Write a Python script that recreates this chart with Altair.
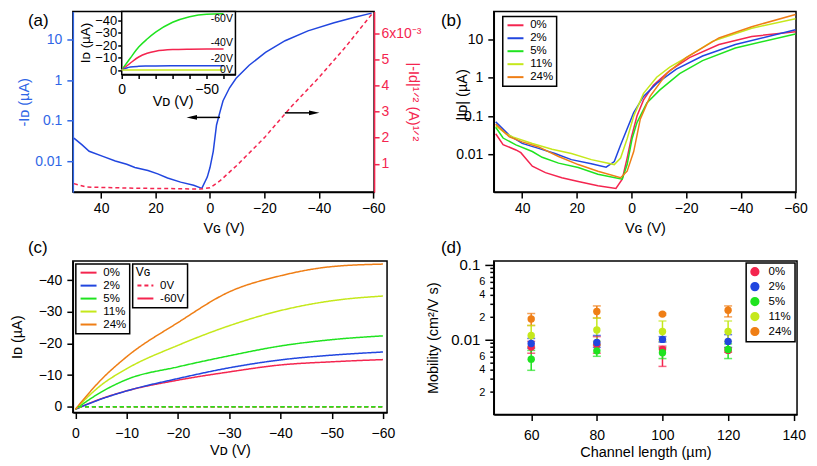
import altair as alt
import pandas as pd

FONT = "Liberation Sans"
RED = "#f4254f"
BLUE = "#2146df"
AXBLUE = "#2f66e6"
GREEN = "#1fe31f"
YG = "#c5e81b"
ORANGE = "#ef7e15"

CONC = ["0%", "2%", "5%", "11%", "24%"]
CONC_COLORS = [RED, BLUE, GREEN, YG, ORANGE]

# ---------------- (a) transfer curve ----------------
a_vg = [50, 47, 44.4, 39.6, 34.8, 30.6, 27.6, 22.8, 19.2, 15.6, 10.8, 6, 3, 1, 0,
        -1.2, -2.4, -3.6, -4.8, -7.2, -9.6, -14.4, -20.4, -27.6, -36, -45.6, -52.8, -59.4]
a_id = [0.0367, 0.0251, 0.0174, 0.0132, 0.0100, 0.0083, 0.0069, 0.0058, 0.0048, 0.0038,
        0.0030, 0.0025, 0.0021, 0.0040, 0.0069, 0.0174, 0.078, 0.158, 0.31, 0.65, 1.12,
        2.34, 4.9, 9.5, 16.6, 26.3, 35.5, 45.7]
a_sq_vg = [50, 45.6, 38.4, 26.4, 14.4, 3.6, 0, -3.6, -10, -20, -30, -40, -50, -60]
a_sq = [0.24, 0.11, 0.09, 0.06, 0.05, 0.03, 0.08, 0.34, 0.95, 2.0, 3.2, 4.3, 5.5, 6.8]
arrow_from = [-3.7, -27.5]
arrow_to = [6.7, -38.3]
arrow_y = [0.12, 2.95]

# inset output curves
ins_vd = [0, -5, -10, -15, -20, -30, -40, -50, -60]
ins_id_m60 = [0, -9.5, -18.5, -25, -30.5, -38.5, -43, -45, -45.3]
ins_id_m40 = [0, -5.5, -10.5, -13.5, -15.2, -16.5, -16.8, -16.9, -16.9]
ins_id_m20 = [0, -2.4, -3.0, -3.2, -3.3, -3.4, -3.4, -3.4, -3.4]
ins_id_0 = [0, 0, 0, 0, 0, 0, 0, 0, 0]
ins_names = ["-60V", "-40V", "-20V", "0V"]
ins_colors = [GREEN, RED, BLUE, YG]
ins_label_vd = [-65.5, -65.5, -65.5, -65.5]
ins_label_id = [-40.8, -21.5, -9.2, 0.3]
ins_x_dom = [-67, 0]
ins_y_dom = [-47.1, 3.5]

# ---------------- (b) transfer curves ----------------
b_vg_0 = [49.7, 47, 42.3, 40.5, 36.3, 31.5, 25.5, 19.5, 12.3, 5.7, 3.4, 1.6, 0, -2, -4.4, -8, -14, -21.2, -32, -44, -60]
b_id_0 = [0.0347, 0.0182, 0.0132, 0.0112, 0.0050, 0.0034, 0.0025, 0.0020, 0.00155, 0.00132, 0.0023, 0.0081,
          0.0288, 0.1, 0.263, 0.63, 1.51, 3.31, 7.24, 11.7, 15.5]
b_vg_2 = [49.7, 44.7, 40, 34, 28, 22, 14.7, 9.3, 6.3, 4, 1.6, -0.8, -4.4, -9.2, -16.4, -26, -38, -60]
b_id_2 = [0.0708, 0.0316, 0.0195, 0.0145, 0.0107, 0.0074, 0.0058, 0.0047, 0.0066, 0.0178, 0.0468, 0.123,
          0.324, 0.708, 1.66, 3.63, 7.24, 17.4]
b_vg_5 = [49.7, 47, 42.3, 36.3, 32.7, 26.7, 19.5, 12.3, 3.4, 1.6, -0.2, -2, -5.6, -10.4, -17.6, -26, -38, -60]
b_id_5 = [0.0513, 0.0269, 0.0178, 0.0120, 0.0085, 0.0060, 0.0046, 0.0031, 0.0023, 0.0055, 0.0257, 0.0676,
          0.219, 0.479, 1.26, 2.75, 5.89, 13.5]
b_vg_11 = [49.7, 45.9, 43.5, 36.3, 29.1, 22, 14.7, 6.3, 4, 1.6, -0.8, -4.4, -9.2, -14, -20, -29.6, -44, -60]
b_id_11 = [0.0562, 0.0347, 0.0288, 0.0195, 0.0138, 0.0107, 0.0074, 0.0055, 0.0081, 0.0257, 0.1, 0.389,
           1.02, 1.86, 3.31, 8.71, 19.1, 33.9]
b_vg_24 = [49.7, 44.7, 40, 34, 26.7, 19.5, 12.3, 4, 1.6, -0.8, -3.2, -6.8, -12.8, -20, -32, -44, -60]
b_id_24 = [0.0617, 0.0288, 0.0214, 0.0158, 0.0089, 0.0055, 0.0037, 0.0025, 0.0037, 0.0120, 0.0832, 0.324,
           1.26, 3.31, 10.7, 20.9, 43.7]

# ---------------- (c) output curves ----------------
c_vd = [0, -5, -10, -20, -30, -40, -50, -60]
c_id_0 = [0.8, -2.5, -5.0, -8.4, -11.0, -13.2, -14.2, -14.9]
c_id_2 = [0.8, -2.4, -5.0, -8.9, -12.3, -14.8, -16.3, -17.3]
c_id_5 = [0.8, -4.6, -8.6, -12.6, -16.1, -19.2, -21.2, -22.4]
c_id_11 = [0.8, -6.8, -12.0, -19.4, -25.6, -30.4, -33.5, -35.0]
c_id_24 = [0.8, -8.5, -15.8, -26.6, -36.3, -41.4, -44.3, -45.1]
c_off_vd = [-0.5, -60]
c_off_id = [0.0, 0.0]
c_off_order = ["0%", "2%", "11%", "24%", "5%"]

# ---------------- (d) mobility ----------------
d_len = [60, 80, 100, 120]
d_mob = {
    "0%": [0.0080, 0.0086, 0.0074, 0.0072],
    "2%": [0.0089, 0.0092, 0.0101, 0.0095],
    "5%": [0.0055, 0.0071, 0.0067, 0.0074],
    "11%": [0.0114, 0.0135, 0.0129, 0.0129],
    "24%": [0.0189, 0.0238, 0.0220, 0.0248],
}
d_lo = {
    "0%": [0.0066, 0.0066, 0.0044, 0.0068],
    "2%": [0.0077, 0.0079, 0.0093, 0.0079],
    "5%": [0.0039, 0.0060, 0.0056, 0.0056],
    "11%": [0.0080, 0.0095, 0.0095, 0.0095],
    "24%": [0.0155, 0.0195, 0.0214, 0.0202],
}
d_hi = {
    "0%": [0.0095, 0.0110, 0.0082, 0.0078],
    "2%": [0.0104, 0.0114, 0.0110, 0.0117],
    "5%": [0.0072, 0.0085, 0.0078, 0.0088],
    "11%": [0.0155, 0.0195, 0.0178, 0.0178],
    "24%": [0.0224, 0.0283, 0.0226, 0.0283],
}
d_ticks = [0.002, 0.003, 0.004, 0.005, 0.006, 0.007, 0.008, 0.009, 0.01,
           0.02, 0.03, 0.04, 0.05, 0.06, 0.07, 0.08, 0.09, 0.1]

cscale = alt.Scale(domain=CONC, range=CONC_COLORS)
LINE_LEG = dict(title=None, symbolType="M-2,0H2", symbolSize=64, symbolStrokeWidth=2,
                symbolOffset=4, labelOffset=9, orient="none")


def label(t, x, y):
    return alt.Chart(pd.DataFrame({"t": [t]})).mark_text(
        fontSize=17, align="left", baseline="top", color="black"
    ).encode(text="t:N", x=alt.value(x), y=alt.value(y))


# ======== panel (a) ========
W_A, H_A = 302, 181
xa = alt.Scale(domain=[-60.3, 50.4], reverse=True, nice=False, zero=False)
ya = alt.Scale(type="log", domain=[0.0017, 50], nice=False)
ysq = alt.Scale(domain=[-0.086, 6.83], nice=False, zero=False)
xi = alt.Scale(domain=ins_x_dom, range=[163, 49], nice=False, zero=False)
yi = alt.Scale(domain=ins_y_dom, range=[0, 63], nice=False, zero=False)

a_blue = alt.Chart(pd.DataFrame({"VG": a_vg, "ID": a_id})).mark_line(color=BLUE, strokeWidth=1.5).encode(
    x=alt.X("VG:Q", scale=xa, axis=alt.Axis(values=[40, 20, 0, -20, -40, -60], title="Vɢ (V)",
                                            labelPadding=3, titlePadding=6)),
    y=alt.Y("ID:Q", scale=ya, axis=alt.Axis(values=[0.01, 0.1, 1, 10], format="~g", title="-Iᴅ (µA)",
                                            domainColor=AXBLUE, tickColor=AXBLUE, labelColor=AXBLUE,
                                            titleColor=AXBLUE, titlePadding=3)),
)
a_red = alt.Chart(pd.DataFrame({"VG": a_sq_vg, "SQ": a_sq})).mark_line(
    color=RED, strokeWidth=1.5, strokeDash=[4, 3]).encode(
    x=alt.X("VG:Q", scale=xa, axis=None),
    y=alt.Y("SQ:Q", scale=ysq, axis=alt.Axis(
        orient="right", values=[1, 2, 3, 4, 5, 6],
        labelExpr="datum.value == 6 ? '6x10⁻³' : datum.label",
        title="|-Id|¹ᐟ² (A)¹ᐟ²", domainColor=RED, tickColor=RED, labelColor=RED, titleColor=RED,
        titleX=39, titleY=90, titleAngle=90, titleAlign="center", titleBaseline="middle",
        tickSize=5, labelPadding=2)),
)
arr_l = pd.DataFrame({"a": [arrow_from[0]], "b": [arrow_to[0]], "y": [arrow_y[0]]})
arr_r = pd.DataFrame({"a": [arrow_from[1]], "b": [arrow_to[1]], "y": [arrow_y[1]]})
a_arrl = alt.Chart(arr_l).mark_rule(color="black", strokeWidth=1.5).encode(
    x=alt.X("a:Q", scale=xa, axis=None), x2="b:Q", y=alt.Y("y:Q", scale=ya, axis=None))
a_headl = alt.Chart(arr_l).mark_point(shape="M-1,0L1,-0.45L1,0.45Z", filled=True, size=110,
                                      color="black", opacity=1).encode(
    x=alt.X("b:Q", scale=xa, axis=None), y=alt.Y("y:Q", scale=ya, axis=None))
a_arrr = alt.Chart(arr_r).mark_rule(color="black", strokeWidth=1.5).encode(
    x=alt.X("a:Q", scale=xa, axis=None), x2="b:Q", y=alt.Y("y:Q", scale=ysq, axis=None))
a_headr = alt.Chart(arr_r).mark_point(shape="M1,0L-1,-0.45L-1,0.45Z", filled=True, size=110,
                                      color="black", opacity=1).encode(
    x=alt.X("b:Q", scale=xa, axis=None), y=alt.Y("y:Q", scale=ysq, axis=None))

ins_frame = alt.Chart(pd.DataFrame({"x1": [ins_x_dom[0]], "x2": [ins_x_dom[1]],
                                    "y1": [ins_y_dom[0]], "y2": [ins_y_dom[1]]})).mark_rect(
    fill="white", stroke="black", strokeWidth=1.5).encode(
    x=alt.X("x1:Q", scale=xi, axis=None), x2="x2:Q", y=alt.Y("y1:Q", scale=yi, axis=None), y2="y2:Q")

ins_rows = []
for nm, ys in zip(ins_names, [ins_id_m60, ins_id_m40, ins_id_m20, ins_id_0]):
    for vd, v in zip(ins_vd, ys):
        ins_rows.append({"VD": vd, "ID": v, "VGn": nm})
ins_lines = alt.Chart(pd.DataFrame(ins_rows)).mark_line(strokeWidth=1.5, interpolate="monotone").encode(
    x=alt.X("VD:Q", scale=xi, axis=alt.Axis(
        orient="bottom", offset=63 - H_A, values=[0, -10, -20, -30, -40, -50, -60],
        labelExpr="datum.value == 0 || datum.value == -50 ? datum.label : ''",
        title="Vᴅ (V)", titleX=100, titleY=20, titleAlign="center", titleBaseline="top",
        tickSize=4, labelPadding=4)),
    y=alt.Y("ID:Q", scale=yi, axis=alt.Axis(
        orient="left", offset=-49, values=[0, -10, -20, -30, -40], title="Iᴅ (µA)",
        tickSize=4, labelPadding=1, labelFontSize=13, titleFontSize=13.5,
        titleX=-36, titleY=31, titleAngle=-90, titleAlign="center", titleBaseline="middle")),
    color=alt.Color("VGn:N", scale=alt.Scale(domain=ins_names, range=ins_colors), legend=None),
)
ins_text = alt.Chart(pd.DataFrame({"x": ins_label_vd, "y": ins_label_id, "t": ins_names})).mark_text(
    align="right", baseline="middle", fontSize=10.5, color="black").encode(
    x=alt.X("x:Q", scale=xi, axis=None), y=alt.Y("y:Q", scale=yi, axis=None), text="t:N")

panel_a = alt.layer(a_blue, a_red, a_arrl, a_headl, a_arrr, a_headr, ins_frame, ins_lines, ins_text,
                    label("(a)", -45, 1)).resolve_scale(
    x="independent", y="independent").properties(width=W_A, height=H_A)

# ======== panel (b) ========
b_rows = []
for nm, xs, ys in zip(CONC, [b_vg_0, b_vg_2, b_vg_5, b_vg_11, b_vg_24],
                      [b_id_0, b_id_2, b_id_5, b_id_11, b_id_24]):
    for x, y in zip(xs, ys):
        b_rows.append({"VG": x, "ID": y, "conc": nm})
xb = alt.Scale(domain=[-60.2, 50.4], reverse=True, nice=False, zero=False)
yb = alt.Scale(type="log", domain=[0.00106, 51.9], nice=False)
b_lines = alt.Chart(pd.DataFrame(b_rows)).mark_line(strokeWidth=1.5).encode(
    x=alt.X("VG:Q", scale=xb, axis=alt.Axis(values=[40, 20, 0, -20, -40, -60], title="Vɢ (V)",
                                            labelPadding=3, titlePadding=6)),
    y=alt.Y("ID:Q", scale=yb, axis=alt.Axis(values=[0.01, 0.1, 1, 10], format="~g", title="|Iᴅ| (µA)",
                                            titleX=-31, titleY=83, titleAlign="center",
                                            titleBaseline="middle")),
    color=alt.Color("conc:N", scale=cscale, legend=alt.Legend(legendX=9, legendY=5, **LINE_LEG)),
)
panel_b = alt.layer(b_lines, label("(b)", -53, 1)).properties(width=303, height=H_A)

# ======== panel (c) ========
c_rows = []
for nm, ys in zip(CONC, [c_id_0, c_id_2, c_id_5, c_id_11, c_id_24]):
    for x, y in zip(c_vd, ys):
        c_rows.append({"VD": x, "ID": y, "conc": nm, "VGc": "-60V"})
for nm in c_off_order:
    for x, y in zip(c_off_vd, c_off_id):
        c_rows.append({"VD": x, "ID": y, "conc": nm, "VGc": "0V"})
xc = alt.Scale(domain=[-60.8, 0.5], reverse=True, nice=False, zero=False)
yc = alt.Scale(domain=[-46.1, 1.85], reverse=True, nice=False, zero=False)
c_lines = alt.Chart(pd.DataFrame(c_rows)).mark_line(strokeWidth=1.5, interpolate="monotone").encode(
    x=alt.X("VD:Q", scale=xc, axis=alt.Axis(values=[0, -10, -20, -30, -40, -50, -60], title="Vᴅ (V)",
                                            labelPadding=8, titlePadding=3)),
    y=alt.Y("ID:Q", scale=yc, axis=alt.Axis(values=[0, -10, -20, -30, -40], title="Iᴅ (µA)",
                                            titlePadding=14)),
    color=alt.Color("conc:N", scale=cscale, legend=alt.Legend(legendX=3, legendY=3, **LINE_LEG)),
    strokeDash=alt.StrokeDash("VGc:N", scale=alt.Scale(domain=["0V", "-60V"], range=[[4, 3], [1, 0]]),
                              legend=alt.Legend(title="Vɢ", orient="none", legendX=60, legendY=3,
                                                symbolType="M-2,0H2", symbolSize=64, symbolStrokeWidth=2,
                                                symbolOffset=4, labelOffset=9,
                                                symbolStrokeColor=RED)),
)
panel_c = alt.layer(c_lines, label("(c)", -45, -21)).properties(width=315, height=152)

# ======== panel (d) ========
d_rows = []
for nm in CONC:
    for i, L in enumerate(d_len):
        d_rows.append({"L": L, "mob": d_mob[nm][i], "lo": d_lo[nm][i], "hi": d_hi[nm][i], "conc": nm})
df_d = pd.DataFrame(d_rows)
xd = alt.Scale(domain=[48.6, 141], nice=False, zero=False)
yd = alt.Scale(type="log", domain=[0.001, 0.113], nice=False)
MAJ = "datum.value === 0.1 || datum.value === 0.01"
AX_DX = alt.Axis(values=[60, 80, 100, 120, 140], title="Channel length (µm)", labelPadding=8,
                 titlePadding=3)
AX_DY = alt.Axis(
    values=d_ticks, title="Mobility (cm²/V s)", titlePadding=10,
    labelExpr=("datum.value === 0.1 ? '0.1' : datum.value === 0.01 ? '0.01' : "
               "indexof([0.06,0.04,0.02], datum.value) >= 0 ? format(datum.value*100, 'd') : "
               "indexof([0.006,0.004,0.002], datum.value) >= 0 ? format(datum.value*1000, 'd') : ''"),
    labelFontSize={"condition": {"test": MAJ, "value": 15}, "value": 11},
    tickSize={"condition": {"test": MAJ, "value": 9}, "value": 4},
)
D_LEG = alt.Legend(title=None, symbolType="circle", symbolSize=60, symbolOpacity=1,
                   orient="top-right", offset=2, labelOffset=8)
D_COLOR = alt.Color("conc:N", scale=cscale, legend=D_LEG)
d_err = alt.Chart(df_d).mark_rule(strokeWidth=1.5).encode(
    x=alt.X("L:Q", scale=xd, axis=AX_DX), y=alt.Y("lo:Q", scale=yd, axis=AX_DY), y2="hi:Q",
    color=D_COLOR)
d_cap_lo = alt.Chart(df_d).mark_tick(orient="horizontal", size=8, thickness=1.5).encode(
    x=alt.X("L:Q", scale=xd, axis=AX_DX), y=alt.Y("lo:Q", scale=yd, axis=AX_DY), color=D_COLOR)
d_cap_hi = alt.Chart(df_d).mark_tick(orient="horizontal", size=8, thickness=1.5).encode(
    x=alt.X("L:Q", scale=xd, axis=AX_DX), y=alt.Y("hi:Q", scale=yd, axis=AX_DY), color=D_COLOR)
d_pts = alt.Chart(df_d).mark_circle(size=55, opacity=1).encode(
    x=alt.X("L:Q", scale=xd, axis=AX_DX), y=alt.Y("mob:Q", scale=yd, axis=AX_DY), color=D_COLOR)
panel_d = alt.layer(d_err, d_cap_lo, d_cap_hi, d_pts, label("(d)", -53, -21)).properties(
    width=304, height=154)

chart = alt.concat(
    panel_a, panel_b, panel_c, panel_d, columns=2,
    spacing={"row": 69, "column": 107}, bounds="flush",
).resolve_scale(color="independent", strokeDash="independent").properties(padding=0).configure(
    font=FONT
).configure_view(
    stroke="black", strokeWidth=1.5
).configure_axis(
    domainColor="black", domainWidth=1.5, tickColor="black", tickWidth=1.5, tickSize=6,
    labelFontSize=14, titleFontSize=14.5, titleFontWeight="normal", grid=False,
    labelFlush=False, labelOverlap=False, labelColor="black", titleColor="black",
    labelPadding=5, titlePadding=5,
).configure_legend(
    strokeColor="black", strokeWidth=1.5, fillColor="white", padding=3, labelFontSize=11.5,
    rowPadding=0, titleFontWeight="normal", titleFontSize=12, titlePadding=1,
)

chart.save("out.html", embed_options={"renderer": "svg", "actions": False})
